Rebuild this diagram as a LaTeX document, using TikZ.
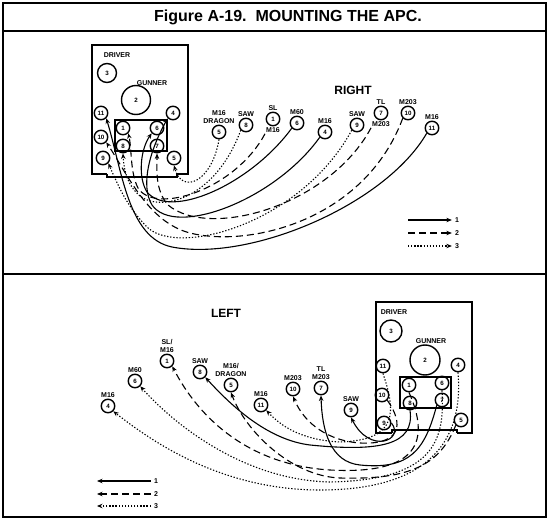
\documentclass[tikz,border=0pt]{standalone}
\usepackage{fontspec}
\setmainfont{Liberation Sans}
\usetikzlibrary{arrows.meta}

\tikzset{
  seat/.style={
    circle, draw, line width=1.4pt,
    minimum size=13.5pt, inner sep=0pt,
    font=\bfseries\fontsize{6.2}{7}\selectfont
  },
  lbl/.style={
    font=\bfseries\fontsize{7}{7.5}\selectfont,
    align=center, inner sep=1pt
  },
  grp1/.style={->, line width=1.1pt},
  grp2/.style={->, line width=1.1pt, dash pattern=on 7pt off 4pt},
  grp3/.style={->, line width=1.1pt, dash pattern=on 1.3pt off 1.8pt}
}

\begin{document}
\begin{tikzpicture}[x=1pt, y=-1pt, >={Stealth[length=5.5pt,width=4.5pt]}]

  \useasboundingbox (0,0) rectangle (550,530);

  % Marco y titulo
  \draw[line width=1.6pt] (3,3) rectangle (546,517);
  \draw[line width=1.6pt] (3,31) -- (546,31);
  \draw[line width=1.6pt] (3,274) -- (546,274);
  \node[font=\bfseries\fontsize{16}{18}\selectfont] (title)
    at (288,17) {Figure A-19.\ \ MOUNTING THE APC.};

  % ---------- RIGHT ----------
  \node[font=\bfseries\fontsize{12}{14}\selectfont] (right) at (353,90) {RIGHT};

  % Vehiculo
  \draw[line width=1.2pt]
    (107,174) -- (92,174) -- (92,45) -- (188,45) -- (188,174) -- (177,174);
  \draw[line width=1.2pt]
    (107,174) -- (107,177) -- (177,177) -- (177,174);
  \draw[line width=1.2pt] (115,120) rectangle (167,151);

  \node[lbl] (rdriver) at (117,55) {DRIVER};
  \node[lbl] (rgunner) at (152,83) {GUNNER};

  \node[seat, minimum size=19pt] (rv3) at (107,73) {3};
  \node[seat, minimum size=29pt] (rv2) at (136,100) {2};
  \node[seat] (rv11) at (101,113) {11};
  \node[seat] (rv10) at (101,137) {10};
  \node[seat] (rv9) at (103,158) {9};
  \node[seat] (rv4) at (173,113) {4};
  \node[seat] (rv5) at (174,158) {5};
  \node[seat] (rv1) at (123,128) {1};
  \node[seat] (rv6) at (157,128) {6};
  \node[seat] (rv8) at (123,146) {8};
  \node[seat] (rv7) at (157,146) {7};

  % Posiciones fuera
  \node[seat, label={[lbl]above:M16\\DRAGON}] (rp5) at (219,132) {5};
  \node[seat, label={[lbl]above:SAW}] (rp8) at (246,125) {8};
  \node[seat, label={[lbl]above:SL},
    label={[lbl,name=rp1m]below:M16}] (rp1) at (273,119) {1};
  \node[seat, label={[lbl]above:M60}] (rp6) at (297,123) {6};
  \node[seat, label={[lbl]above:M16}] (rp4) at (325,132) {4};
  \node[seat, label={[lbl]above:SAW}] (rp9) at (357,125) {9};
  \node[seat, label={[lbl]above:TL},
    label={[lbl,name=rp7m]below:M203}] (rp7) at (381,113) {7};
  \node[seat, label={[lbl]above:M203}] (rp10) at (408,113) {10};
  \node[seat, label={[lbl]above:M16}] (rp11) at (432,128) {11};

  % Grupo 1
  \draw[grp1] (rp11.south west)
    .. controls (385,205) and (250,262) .. (172,247)
    .. controls (128,238) and (122,170) .. (rv11.south east);
  \draw[grp1] (rp4.south west)
    .. controls (275,200) and (175,238) .. (152,205)
    .. controls (140,185) and (150,150) .. (rv4.south west);
  \draw[grp1] (rp6.south west)
    .. controls (250,185) and (170,220) .. (147,192)
    .. controls (138,178) and (140,150) .. (rv6.south west);

  % Grupo 2
  \draw[grp2] (rp1m.south west)
    .. controls (235,190) and (155,215) .. (138,188)
    .. controls (130,172) and (132,150) .. (rv1.south east);
  \draw[grp2] (rp7m.south west)
    .. controls (330,205) and (210,240) .. (168,205)
    .. controls (155,190) and (157,170) .. (rv7.south);
  \draw[grp2] (rp10.south west)
    .. controls (365,220) and (250,248) .. (190,233)
    .. controls (148,222) and (128,175) .. (rv10.south east);

  % Grupo 3
  \draw[grp3] (rp5.south)
    .. controls (212,182) and (182,195) .. (rv5.south);
  \draw[grp3] (rp8.south west)
    .. controls (215,200) and (160,212) .. (140,196)
    .. controls (128,186) and (124,172) .. (rv8.south);
  \draw[grp3] (rp9.south west)
    .. controls (300,225) and (175,258) .. (146,226)
    .. controls (126,205) and (118,185) .. (rv9.south east);

  % Leyenda
  \node[lbl] (rleg1) at (457,220) {1};
  \node[lbl] (rleg2) at (457,233) {2};
  \node[lbl] (rleg3) at (457,246) {3};
  \coordinate (rleg1s) at (408,220);
  \coordinate (rleg2s) at (408,233);
  \coordinate (rleg3s) at (408,246);
  \draw[grp1, shorten >=2pt] (rleg1s) -- (rleg1.west);
  \draw[grp2, shorten >=2pt] (rleg2s) -- (rleg2.west);
  \draw[grp3, shorten >=2pt] (rleg3s) -- (rleg3.west);

  % ---------- LEFT ----------
  \node[font=\bfseries\fontsize{12}{14}\selectfont] (left) at (226,313) {LEFT};

  % Vehiculo
  \draw[line width=1.2pt]
    (392,433) -- (376,433) -- (376,302) -- (472,302) -- (472,433) -- (457,433);
  \draw[line width=1.2pt]
    (392,433) -- (392,430) -- (457,430) -- (457,433);
  \draw[line width=1.2pt] (400,377) rectangle (451,408);

  \node[lbl] (ldriver) at (394,312) {DRIVER};
  \node[lbl] (lgunner) at (431,341) {GUNNER};

  \node[seat, minimum size=22pt] (lv3) at (391,331) {3};
  \node[seat, minimum size=30pt] (lv2) at (425,360) {2};
  \node[seat] (lv11) at (383,366) {11};
  \node[seat] (lv10) at (382,395) {10};
  \node[seat] (lv9) at (384,423) {9};
  \node[seat] (lv4) at (458,365) {4};
  \node[seat] (lv5) at (461,420) {5};
  \node[seat] (lv1) at (409,385) {1};
  \node[seat] (lv6) at (442,383) {6};
  \node[seat] (lv8) at (410,403) {8};
  \node[seat] (lv7) at (442,400) {7};

  % Posiciones fuera
  \node[seat, label={[lbl]above:M16}] (lp4) at (108,406) {4};
  \node[seat, label={[lbl]above:M60}] (lp6) at (135,381) {6};
  \node[seat, label={[lbl]above:SL/\\M16}] (lp1) at (167,361) {1};
  \node[seat, label={[lbl]above:SAW}] (lp8) at (200,372) {8};
  \node[seat, label={[lbl]above:M16/\\DRAGON}] (lp5) at (231,385) {5};
  \node[seat, label={[lbl]above:M16}] (lp11) at (261,405) {11};
  \node[seat, label={[lbl]above:M203}] (lp10) at (293,389) {10};
  \node[seat, label={[lbl]above:TL\\M203}] (lp7) at (321,388) {7};
  \node[seat, label={[lbl]above:SAW}] (lp9) at (351,410) {9};

  % Grupo 1
  \draw[grp1] (lv9.east)
    .. controls (405,440) and (370,455) .. (lp9.south);
  \draw[grp1] (lv7.south west)
    .. controls (425,450) and (410,470) .. (360,465)
    .. controls (330,462) and (322,430) .. (lp7.south);
  \draw[grp1] (lv8.south)
    .. controls (415,445) and (380,452) .. (310,445)
    .. controls (270,440) and (235,410) .. (lp8.south east);

  % Grupo 2
  \draw[grp2] (lv1.south)
    .. controls (430,440) and (420,475) .. (330,470)
    .. controls (250,465) and (200,420) .. (lp1.south east);
  \draw[grp2] (lv5.south west)
    .. controls (440,465) and (410,480) .. (340,478)
    .. controls (290,476) and (245,430) .. (lp5.south);
  \draw[grp2] (lv10.south east)
    .. controls (405,425) and (400,445) .. (360,443)
    .. controls (330,441) and (305,425) .. (lp10.south);

  % Grupo 3
  \draw[grp3] (lv11.south)
    .. controls (395,410) and (400,440) .. (340,442)
    .. controls (300,440) and (280,425) .. (lp11.south east);
  \draw[grp3] (lv6.south)
    .. controls (445,440) and (435,480) .. (330,482)
    .. controls (240,480) and (170,420) .. (lp6.south east);
  \draw[grp3] (lv4.south)
    .. controls (462,420) and (450,490) .. (320,490)
    .. controls (220,490) and (150,440) .. (lp4.south east);

  % Leyenda
  \node[lbl] (lleg1) at (156,481) {1};
  \node[lbl] (lleg2) at (156,494) {2};
  \node[lbl] (lleg3) at (156,506) {3};
  \coordinate (lleg1e) at (97,481);
  \coordinate (lleg2e) at (97,494);
  \coordinate (lleg3e) at (97,506);
  \draw[grp1, shorten <=2pt] (lleg1.west) -- (lleg1e);
  \draw[grp2, shorten <=2pt] (lleg2.west) -- (lleg2e);
  \draw[grp3, shorten <=2pt] (lleg3.west) -- (lleg3e);

\end{tikzpicture}
\end{document}
